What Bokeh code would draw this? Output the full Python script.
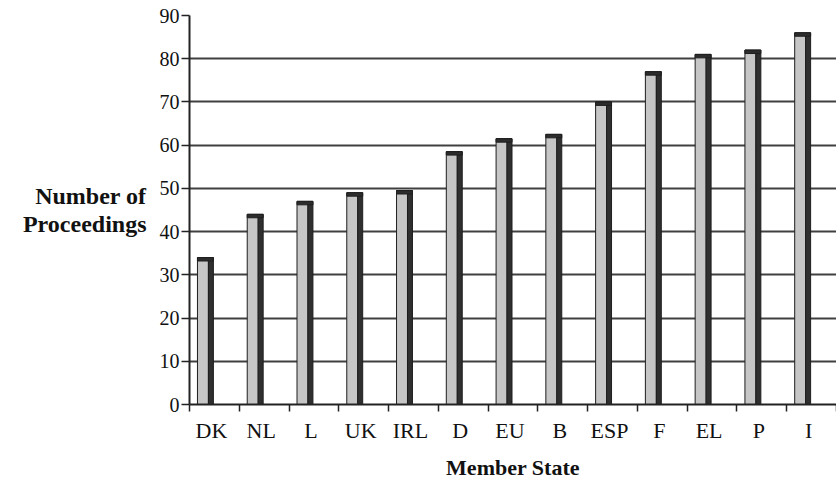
from bokeh.plotting import figure
from bokeh.models import Range1d, FixedTicker
from bokeh.embed import file_html
from bokeh.resources import INLINE

# ---- data ----
states = ["DK", "NL", "L", "UK", "IRL", "D", "EU", "B", "ESP", "F", "EL", "P", "I"]
proceedings = [34, 44, 47, 49, 49.5, 58.5, 61.5, 62.5, 70, 77, 81, 82, 86]
y_ticks = [0, 10, 20, 30, 40, 50, 60, 70, 80, 90]
grid_values = [10, 20, 30, 40, 50, 60, 70, 80]
x_title = "Member State"
y_title = "Number of\nProceedings"

# ---- styling constants ----
FONT = "Liberation Serif"
BAR_SHIFT = -0.18
LABEL_SHIFT = -0.06
FACE_W = 0.22
SIDE_W = 0.10
CAP = 0.8

idx = list(range(len(states)))
centers = [i + BAR_SHIFT for i in idx]
face_x = [c - SIDE_W / 2 for c in centers]
side_x = [c + FACE_W / 2 for c in centers]
cap_bottom = [v - CAP for v in proceedings]
label_pos = [round(i + LABEL_SHIFT, 2) for i in idx]

p = figure(width=836, height=482, output_backend="svg", toolbar_location=None,
           x_range=Range1d(-0.5, len(states) - 0.5), y_range=Range1d(0, 90),
           min_border_left=189, min_border_right=0, min_border_top=15, min_border_bottom=78)
p.outline_line_color = None
p.background_fill_color = "white"

# grid
p.xgrid.visible = False
p.ygrid.ticker = FixedTicker(ticks=grid_values)
p.ygrid.grid_line_color = "#404040"
p.ygrid.grid_line_width = 1.8

# bars: face, dark side, top cap
p.vbar(x=face_x, width=FACE_W, bottom=0, top=proceedings,
       fill_color="#c6c6c6", line_color="#1e1e1e", line_width=1)
p.vbar(x=side_x, width=SIDE_W, bottom=0, top=proceedings,
       fill_color="#2f2f2f", line_color="#1e1e1e", line_width=1)
p.vbar(x=centers, width=FACE_W + SIDE_W, bottom=cap_bottom, top=proceedings,
       fill_color="#2c2c2c", line_color="#1e1e1e", line_width=1)

# x axis
xa = p.xaxis[0]
xa.ticker = FixedTicker(ticks=label_pos, minor_ticks=[i - 0.5 for i in idx] + [len(states) - 0.5])
xa.major_label_overrides = {pos: s for pos, s in zip(label_pos, states)}
xa.major_tick_out = 0
xa.major_tick_in = 0
xa.minor_tick_out = 7
xa.minor_tick_in = 0
xa.minor_tick_line_color = "#222222"
xa.minor_tick_line_width = 1.5
xa.axis_line_color = "#222222"
xa.axis_line_width = 2
xa.major_label_text_font = FONT
xa.major_label_text_font_size = "22px"
xa.major_label_text_color = "#111111"
xa.major_label_standoff = 6
xa.axis_label = x_title
xa.axis_label_text_font = FONT
xa.axis_label_text_font_style = "bold"
xa.axis_label_text_font_size = "22px"
xa.axis_label_text_color = "#111111"
xa.axis_label_standoff = 9

# y axis
ya = p.yaxis[0]
ya.ticker = FixedTicker(ticks=y_ticks)
ya.major_tick_out = 8
ya.major_tick_in = 0
ya.major_tick_line_color = "#222222"
ya.major_tick_line_width = 1.5
ya.minor_tick_out = 0
ya.minor_tick_in = 0
ya.axis_line_color = "#222222"
ya.axis_line_width = 2
ya.major_label_text_font = FONT
ya.major_label_text_font_size = "20px"
ya.major_label_text_color = "#111111"
ya.major_label_standoff = 2
ya.axis_label = y_title
ya.axis_label_orientation = "horizontal"
ya.axis_label_text_font = FONT
ya.axis_label_text_font_style = "bold"
ya.axis_label_text_font_size = "24px"
ya.axis_label_text_line_height = 1.1
ya.axis_label_text_color = "#111111"
ya.axis_label_text_align = "center"
ya.axis_label_standoff = 10

open("out.html", "w").write(file_html(p, INLINE))
